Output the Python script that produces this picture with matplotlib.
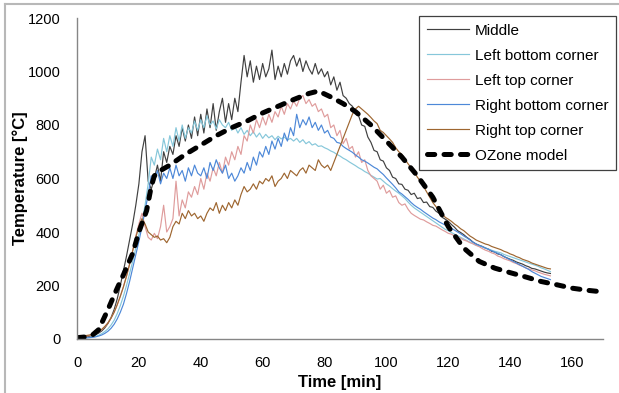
import matplotlib
matplotlib.use('Agg')
import matplotlib.pyplot as plt
import numpy as np
from matplotlib.lines import Line2D

plt.rcParams['font.family'] = ['Liberation Sans', 'DejaVu Sans']

# measured series, one value per minute (0 .. 153 min)
t_meas = np.arange(0, 154)

middle = [
    5, 6, 7, 8, 10, 12, 16, 22, 30, 42,
    58, 80, 110, 150, 200, 255, 310, 370, 430, 500,
    580, 700, 760, 590, 560, 600, 650, 590, 700, 660,
    720, 690, 760, 720, 790, 740, 800, 750, 830, 760,
    840, 770, 860, 790, 880, 780, 850, 900, 810, 880,
    820, 900, 850, 960, 1060, 980, 1040, 960, 1020, 970,
    1030, 980, 1010, 1080, 970, 1020, 980, 1030, 990, 1040,
    1060, 1020, 1050, 1000, 1040, 1010, 990, 1030, 990, 1010,
    980, 1000, 950, 980, 930, 960, 910, 900, 880, 870,
    850, 835, 800, 795, 755, 735, 705, 700, 670, 665,
    640, 630, 605, 600, 580, 578, 560, 556, 540, 545,
    525, 528, 510, 512, 495, 492, 478, 470, 455, 448,
    440, 428, 418, 405, 398, 390, 380, 372, 362, 355,
    350, 346, 340, 336, 328, 325, 318, 315, 308, 303,
    298, 294, 288, 284, 280, 274, 270, 264, 262, 258,
    254, 250, 247, 245,
]

left_bottom = [
    3, 3, 4, 5, 6, 8, 10, 14, 20, 28,
    38, 52, 70, 95, 125, 160, 200, 245, 290, 340,
    390, 440, 500, 580, 680, 650, 710, 670, 750, 700,
    760, 720, 790, 740, 800, 750, 790, 770, 815, 780,
    820, 790, 835, 800, 815, 785, 820, 800, 790, 810,
    780, 795, 770, 790, 765, 780, 760, 775, 755, 770,
    750, 765, 752, 760, 745, 758, 748, 755, 744, 750,
    740, 750, 735, 745, 730, 738, 725, 730, 720, 722,
    715, 710, 703, 698, 690, 684, 676, 670, 662, 655,
    648, 640, 634, 626, 620, 612, 605, 598, 600, 590,
    580, 572, 562, 553, 545, 535, 525, 512, 500, 490,
    482, 474, 466, 458, 450, 442, 434, 426, 418, 410,
    405, 398, 392, 386, 380, 374, 368, 362, 356, 350,
    348, 345, 340, 336, 332, 328, 325, 322, 316, 312,
    308, 304, 300, 296, 292, 288, 284, 280, 276, 272,
    266, 262, 257, 252,
]

left_top = [
    8, 9, 10, 11, 13, 16, 20, 26, 35, 46,
    60, 78, 100, 128, 160, 195, 235, 280, 330, 385,
    430, 470, 420, 380, 370, 395, 375, 420, 500, 400,
    420, 450, 590, 460, 520, 490, 550, 530, 570, 540,
    600, 560, 620, 590, 640, 610, 660, 620, 680, 650,
    700, 670, 720, 690, 760, 740, 800, 770, 820, 790,
    830, 800, 840, 810, 850, 830, 870, 840, 880, 860,
    890, 870, 900, 910, 880, 895, 870, 880, 850, 860,
    830, 840, 790, 800, 760, 780, 730, 750, 710, 720,
    680, 700, 660, 670, 630, 610, 600, 590, 560, 575,
    545, 555, 530, 535, 510, 500, 505, 485, 470, 462,
    455, 448, 445, 438, 432, 425, 422, 415, 408, 402,
    395, 392, 385, 380, 376, 370, 366, 360, 356, 350,
    345, 338, 332, 328, 322, 318, 310, 306, 300, 296,
    292, 286, 282, 276, 272, 266, 262, 258, 255, 250,
    246, 242, 239, 236,
]

right_bottom = [
    2, 2, 3, 4, 5, 6, 8, 11, 15, 21,
    29, 40, 55, 75, 100, 130, 170, 215, 265, 315,
    365, 420, 480, 540, 610, 590, 630, 580, 620, 600,
    640, 600, 650, 610, 630, 590, 640, 610, 650, 620,
    610, 640, 600, 660, 630, 670, 640, 620, 650, 600,
    620, 590, 610, 640, 620, 660, 630, 680, 650, 700,
    680, 720, 690, 740, 710, 750, 720, 770, 740, 790,
    760, 840, 790, 820, 800, 830, 790, 810, 780, 800,
    770, 780, 755, 750, 735, 732, 720, 712, 705, 698,
    688, 680, 670, 665, 658, 650, 642, 636, 625, 615,
    602, 590, 578, 565, 550, 542, 532, 522, 510, 500,
    492, 485, 476, 468, 460, 452, 446, 438, 432, 426,
    420, 414, 407, 400, 393, 385, 378, 370, 362, 355,
    350, 345, 340, 335, 330, 325, 320, 315, 308, 302,
    296, 290, 284, 278, 272, 266, 260, 252, 246, 240,
    234, 230, 226, 222,
]

right_top = [
    10, 11, 12, 13, 15, 18, 22, 28, 36, 47,
    60, 78, 100, 128, 160, 195, 235, 280, 330, 380,
    420, 450, 430, 400, 390, 380, 385, 370, 375, 360,
    380, 420, 440, 430, 470, 450, 480, 460, 470, 450,
    460, 440, 470, 490, 480, 510, 470, 500, 480, 510,
    490, 520, 500, 540, 570, 550, 560, 580, 560, 590,
    580, 600, 590, 610, 570, 590, 600, 620, 600, 630,
    620, 610, 630, 640, 620, 650, 640, 630, 670, 650,
    640, 650, 630, 660, 690, 720, 750, 780, 810, 840,
    860, 870, 860, 850, 840, 828, 815, 805, 780, 772,
    760, 748, 735, 715, 700, 690, 672, 655, 640, 625,
    605, 590, 570, 550, 530, 510, 495, 480, 468, 455,
    448, 440, 430, 422, 412, 405, 395, 385, 378, 370,
    365, 360, 355, 352, 346, 342, 338, 334, 328, 324,
    318, 314, 308, 304, 298, 294, 290, 284, 280, 276,
    272, 268, 264, 262,
]

# OZone model curve
t_ozone = [0, 3, 5, 7, 10, 13, 15, 18, 20, 22.5, 24, 25, 27, 30, 35, 40, 45,
           50, 55, 60, 65, 70, 75, 78, 82, 86, 90, 95, 100, 105, 110, 115,
           120, 125, 130, 135, 140, 145, 150, 155, 160, 165, 170]
ozone = [5, 8, 15, 35, 110, 190, 240, 320, 400, 480, 570, 610, 630, 650, 690,
         725, 760, 790, 815, 845, 870, 895, 918, 927, 905, 880, 850, 800, 740,
         680, 610, 530, 420, 340, 290, 265, 248, 232, 215, 203, 190, 182, 176]

fig = plt.figure(figsize=(6.19, 3.93), dpi=100)
ax = fig.add_axes([77 / 619, 1 - 339 / 393, 526 / 619, 321 / 393])

lw = 0.85
ax.plot(t_meas, middle, color='#404040', lw=lw, label='Middle')
ax.plot(t_meas, left_bottom, color='#86c7da', lw=lw, label='Left bottom corner')
ax.plot(t_meas, left_top, color='#df9c9c', lw=lw, label='Left top corner')
ax.plot(t_meas, right_bottom, color='#4d88d8', lw=lw, label='Right bottom corner')
ax.plot(t_meas, right_top, color='#9e6630', lw=lw, label='Right top corner')
ax.plot(t_ozone, ozone, color='black', lw=3.6, dashes=(1.45, 1.85),
        dash_capstyle='round', label='OZone model')

ax.set_xlim(0, 170)
ax.set_ylim(0, 1200)
ax.set_xticks(range(0, 161, 20))
ax.set_yticks(range(0, 1201, 200))
ax.tick_params(length=0, labelsize=10.5, colors='black')
ax.tick_params(axis='y', pad=12)
ax.tick_params(axis='x', pad=12)
for s in ['top', 'right']:
    ax.spines[s].set_visible(False)
for s in ['left', 'bottom']:
    ax.spines[s].set_color('#868686')
    ax.spines[s].set_linewidth(1.0)

ax.set_xlabel('Time [min]', fontsize=12, fontweight='bold')
ax.set_ylabel('Temperature [°C]', fontsize=12, fontweight='bold')
ax.xaxis.label.set_va('center')
ax.yaxis.label.set_va('center')
ax.xaxis.set_label_coords(0.5, -0.137)
ax.yaxis.set_label_coords(-0.108, 0.5)

leg = ax.legend(loc='upper right', bbox_to_anchor=(616 / 619, 1 - 16 / 393),
                bbox_transform=fig.transFigure, borderaxespad=0, fontsize=11,
                handlelength=2.8, handletextpad=0.35, labelspacing=0.72,
                fancybox=False, framealpha=1, edgecolor='#404040',
                borderpad=0.5)
leg.get_frame().set_linewidth(0.9)

# light grey frame round the picture
for xs, ys in [([5 / 619, 5 / 619], [0, 1 - 4 / 393]),
               ([5 / 619, 1], [1 - 4 / 393, 1 - 4 / 393])]:
    fig.add_artist(Line2D(xs, ys, transform=fig.transFigure,
                          color='#b8b8b8', lw=1.5))

fig.savefig('out.png', dpi=100)
